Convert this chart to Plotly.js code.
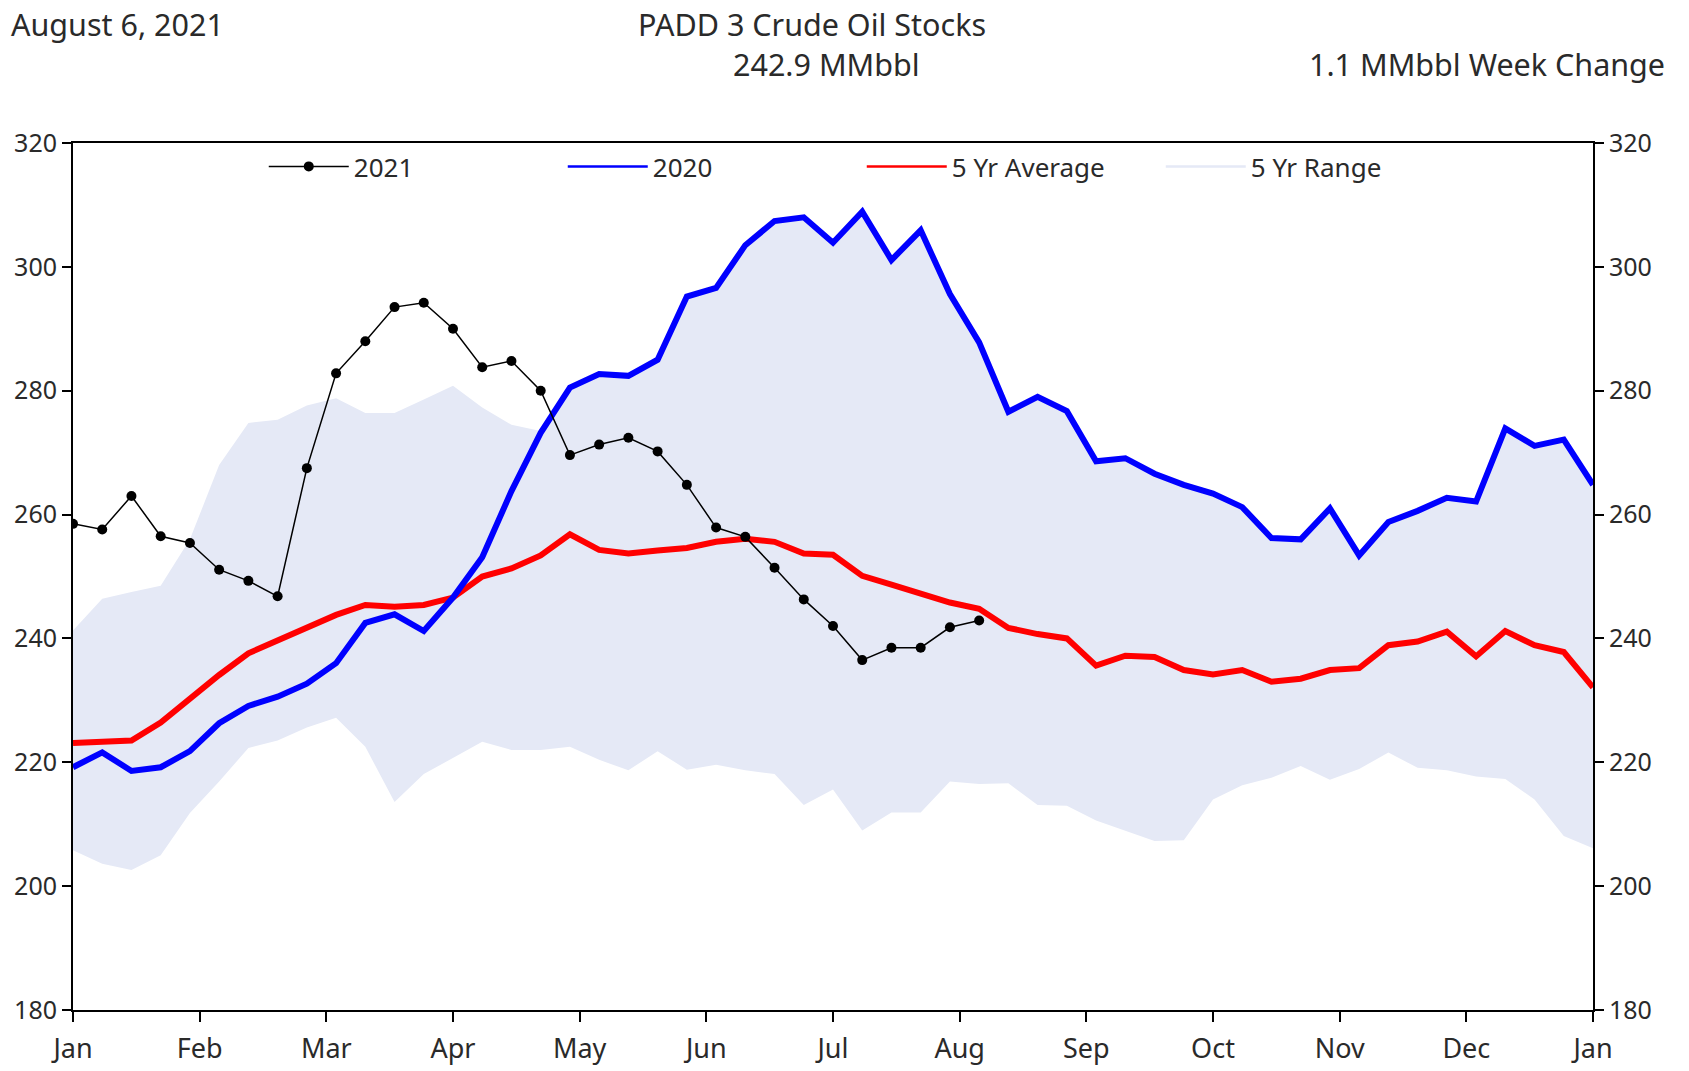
<!DOCTYPE html>
<html>
<head>
<meta charset="utf-8">
<script src="https://cdn.plot.ly/plotly-3.0.1.min.js"></script>
<style>
  html, body { margin: 0; padding: 0; background: #fff; }
  #chart { width: 1689px; height: 1071px; }
</style>
</head>
<body>
<div id="chart"></div>
<script>
// ------------------------------------------------ data ------------------------------------------------//

var months = ["Jan", "Feb", "Mar", "Apr", "May", "Jun", "Jul", "Aug", "Sep", "Oct", "Nov", "Dec", "Jan"];

// week of year (0 = first week of Jan, 52 = last week of Dec)
var weeks = [];
for (var w = 0; w <= 52; w++) weeks.push(w);

var stocks2021 = [258.5, 257.6, 263.0, 256.5, 255.4, 251.1, 249.3, 246.8, 267.5, 282.8,
    288.0, 293.5, 294.2, 290.0, 283.8, 284.8, 280.0, 269.6, 271.3, 272.4,
    270.2, 264.8, 257.9, 256.4, 251.4, 246.3, 242.0, 236.5, 238.5, 238.5,
    241.8, 242.9];

var stocks2020 = [219.2, 221.6, 218.6, 219.2, 221.8, 226.3, 229.1, 230.6, 232.7, 236.0,
    242.5, 243.9, 241.2, 246.6, 253.1, 263.8, 273.2, 280.5, 282.7, 282.4,
    285.0, 295.2, 296.6, 303.5, 307.4, 308.0, 303.9, 308.9, 301.1, 305.9,
    295.6, 287.8, 276.6, 279.0, 276.7, 268.6, 269.1, 266.6, 264.8, 263.4,
    261.2, 256.2, 256.0, 261.0, 253.4, 258.8, 260.6, 262.7, 262.1, 273.9,
    271.1, 272.1, 264.8];

var avg5yr = [223.1, 223.2, 223.5, 226.4, 230.3, 234.1, 237.6, 239.7, 241.6, 243.8,
    245.4, 245.1, 245.4, 246.6, 250.0, 251.3, 253.4, 256.8, 254.3, 253.7,
    254.2, 254.6, 255.6, 256.1, 255.6, 253.7, 253.5, 250.1, 248.7, 247.2,
    245.8, 244.8, 241.7, 240.7, 240.0, 235.6, 237.2, 237.0, 234.9, 234.2,
    234.9, 233.0, 233.5, 234.9, 235.2, 238.9, 239.5, 241.1, 237.1, 241.2,
    238.9, 237.8, 232.1];

var rangeHigh = [241.3, 246.4, 247.5, 248.5, 256.0, 268.0, 274.8, 275.3, 277.6, 278.8,
    276.4, 276.4, 278.6, 280.8, 277.3, 274.5, 273.5, 280.5, 282.7, 282.4,
    285.0, 295.2, 296.6, 303.5, 307.4, 308.0, 303.9, 308.9, 301.1, 305.9,
    295.6, 287.8, 276.6, 279.0, 276.7, 268.6, 269.1, 266.6, 264.8, 263.4,
    261.2, 256.2, 256.0, 261.0, 253.4, 258.8, 260.6, 262.7, 262.1, 273.9,
    271.1, 272.1, 264.8];

var rangeLow = [205.8, 203.6, 202.6, 205.0, 211.8, 216.9, 222.3, 223.5, 225.6, 227.2,
    222.5, 213.6, 218.1, 220.7, 223.3, 222.0, 222.0, 222.5, 220.4, 218.7,
    221.8, 218.8, 219.6, 218.7, 218.1, 213.1, 215.6, 209.0, 211.9, 211.9,
    216.9, 216.5, 216.6, 213.1, 213.0, 210.6, 209.0, 207.3, 207.4, 214.0,
    216.3, 217.5, 219.4, 217.2, 218.9, 221.6, 219.1, 218.7, 217.7, 217.3,
    214.0, 208.1, 206.1];

var reportDate = "August 6, 2021";
var chartTitle = "PADD 3 Crude Oil Stocks";
var latestLevel = "242.9 MMbbl";
var weekChange = "1.1 MMbbl Week Change";

// ------------------------------------------------ traces ------------------------------------------------//

var rangeColor = "#E5E9F6";
var textColor = "#2a2a2a";

var lowTrace = {
    x: weeks,
    y: rangeLow,
    mode: "lines",
    line: { width: 0, color: rangeColor },
    showlegend: false,
    hoverinfo: "skip"
};

var highTrace = {
    x: weeks,
    y: rangeHigh,
    mode: "lines",
    fill: "tonexty",
    fillcolor: rangeColor,
    line: { width: 0, color: rangeColor },
    showlegend: false,
    hoverinfo: "skip"
};

var avgTrace = {
    x: weeks,
    y: avg5yr,
    mode: "lines",
    line: { width: 6, color: "#FF0000" },
    showlegend: false
};

var trace2020 = {
    x: weeks,
    y: stocks2020,
    mode: "lines",
    line: { width: 6, color: "#0000FF" },
    showlegend: false
};

var trace2021 = {
    x: weeks.slice(0, stocks2021.length),
    y: stocks2021,
    mode: "lines+markers",
    name: "2021",
    line: { width: 1.5, color: "#000000" },
    marker: { size: 10, color: "#000000" },
    legendrank: 1
};

// legend entries drawn with the thin lines of the reference
function legendEntry(name, color, rank) {
    return {
        x: [null],
        y: [null],
        mode: "lines",
        name: name,
        line: { width: 2.5, color: color },
        legendrank: rank,
        hoverinfo: "skip"
    };
}

// hidden copy so the right hand axis gets drawn
var rightAxisTrace = {
    x: weeks,
    y: avg5yr,
    yaxis: "y2",
    mode: "lines",
    opacity: 0,
    showlegend: false,
    hoverinfo: "skip"
};

// ------------------------------------------------ layout ------------------------------------------------//

var tickPos = months.map(function (m, i) { return i * 52 / 12; });

var yAxisBase = {
    range: [180, 320],
    dtick: 20,
    ticks: "outside",
    ticklen: 9,
    tickwidth: 2,
    tickcolor: "#000",
    showline: true,
    linewidth: 2,
    linecolor: "#000",
    showgrid: false,
    zeroline: false,
    tickfont: { size: 25, color: textColor }
};

var layout = {
    width: 1689,
    height: 1071,
    margin: { l: 73, r: 96, t: 143, b: 61 },
    paper_bgcolor: "#fff",
    plot_bgcolor: "#fff",
    font: { family: "Noto Sans, Open Sans, sans-serif", size: 24, color: textColor },
    showlegend: true,
    legend: {
        orientation: "h",
        traceorder: "normal",
        x: 0.1255,
        xanchor: "left",
        y: 1.0,
        yanchor: "top",
        bgcolor: "rgba(0,0,0,0)",
        itemwidth: 80,
        entrywidth: 204,
        entrywidthmode: "pixels",
        font: { size: 26, color: textColor }
    },
    xaxis: {
        range: [0, 52],
        tickvals: tickPos,
        ticktext: months,
        ticks: "outside",
        ticklen: 10,
        tickwidth: 2,
        tickcolor: "#000",
        ticklabelstandoff: 4,
        showline: true,
        linewidth: 2,
        linecolor: "#000",
        mirror: true,
        showgrid: false,
        zeroline: false,
        tickfont: { size: 27, color: textColor }
    },
    yaxis: Object.assign({}, yAxisBase, { side: "left" }),
    yaxis2: Object.assign({}, yAxisBase, { side: "right", overlaying: "y" }),
    annotations: [
        { text: reportDate, xref: "paper", yref: "paper", x: -0.042, y: 1.137,
          xanchor: "left", yanchor: "middle", showarrow: false, font: { size: 30.5, color: textColor } },
        { text: chartTitle, xref: "paper", yref: "paper", x: 0.4865, y: 1.137,
          xanchor: "center", yanchor: "middle", showarrow: false, font: { size: 30.5, color: textColor } },
        { text: latestLevel, xref: "paper", yref: "paper", x: 0.4955, y: 1.091,
          xanchor: "center", yanchor: "middle", showarrow: false, font: { size: 30.5, color: textColor } },
        { text: weekChange, xref: "paper", yref: "paper", x: 1.049, y: 1.091,
          xanchor: "right", yanchor: "middle", showarrow: false, font: { size: 30.5, color: textColor } }
    ]
};

var data = [lowTrace, highTrace, avgTrace, trace2020, trace2021,
    legendEntry("2020", "#0000FF", 2),
    legendEntry("5 Yr Average", "#FF0000", 3),
    legendEntry("5 Yr Range", rangeColor, 4),
    rightAxisTrace];

Plotly.newPlot("chart", data, layout, { displayModeBar: false, staticPlot: true });
</script>
</body>
</html>
